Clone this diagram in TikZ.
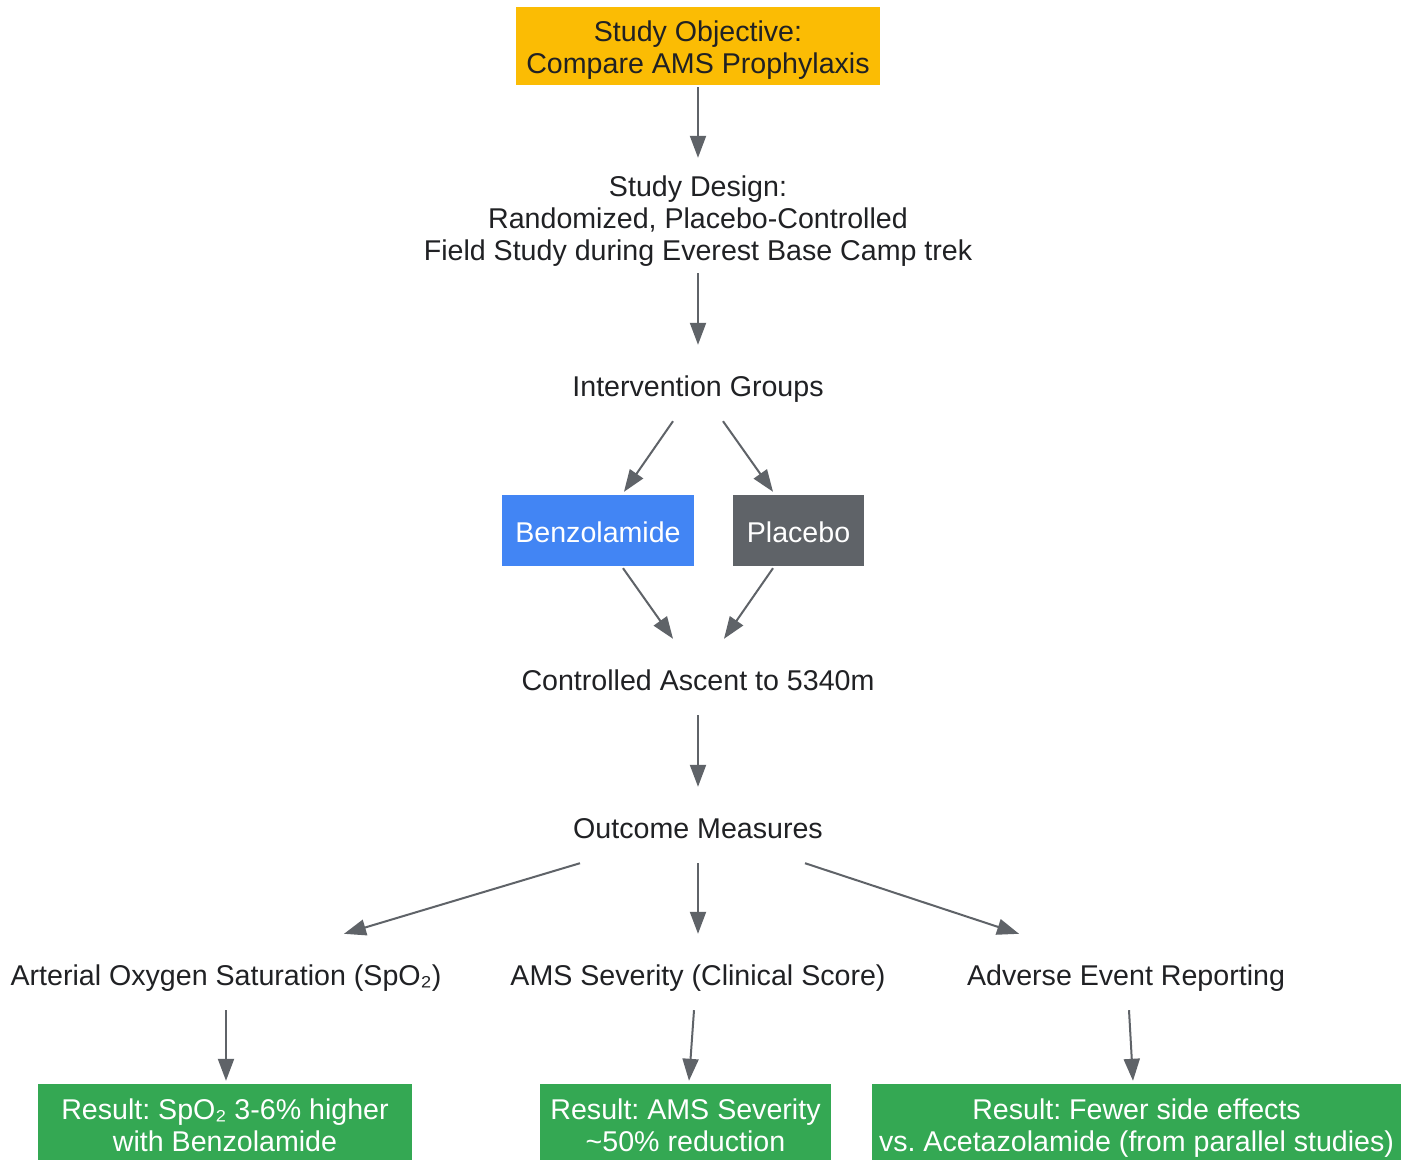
\documentclass[tikz,border=0pt]{standalone}
\usepackage{fontspec}
\setmainfont{Liberation Sans}
\frenchspacing
\usetikzlibrary{arrows.meta,calc}
\definecolor{cyellow}{HTML}{FBBC04}
\definecolor{cblue}{HTML}{4285F4}
\definecolor{cgray}{HTML}{5F6368}
\definecolor{cgreen}{HTML}{34A853}
\definecolor{ctext}{HTML}{202124}
\begin{document}
\begin{tikzpicture}[x=1pt,y=-1pt,
  every node/.style={font=\fontsize{28.6}{32}\selectfont, text=ctext, align=center, inner sep=0pt, text depth=0pt},
  plain/.style={minimum height=76, text height=26pt},
  box/.style={rectangle, minimum height=71, text height=23pt},
  res/.style={rectangle, fill=cgreen, text=white, minimum height=78, text height=57pt},
  conn/.style={draw=cgray, line width=2pt, -{Triangle[length=22pt,width=16pt]}}]
\useasboundingbox (0,0) rectangle (1413,1159);
\fill[white] (0,0) rectangle (1413,1159);
\node[rectangle, fill=cyellow, minimum width=364, minimum height=78, text height=55pt] (obj) at (698,46) {Study Objective:\\Compare AMS Prophylaxis};
\node[minimum height=115, text height=90pt] (design) at (698,215.5) {Study Design:\\Randomized, Placebo-Controlled\\Field Study during Everest Base Camp trek};
\node[plain] (ig) at (698,383) {Intervention Groups};
\node[box, fill=cblue, text=white, minimum width=192] (benz) at (598,530.5) {Benzolamide};
\node[box, fill=cgray, text=white, minimum width=131] (plac) at (798.5,530.5) {Placebo};
\node[plain] (asc) at (698,677) {Controlled Ascent to 5340m};
\node[plain] (om) at (698,825) {Outcome Measures};
\node[plain] (spo) at (226,972) {Arterial Oxygen Saturation (SpO₂)};
\node[plain] (ams) at (698,972) {AMS Severity (Clinical Score)};
\node[plain] (adv) at (1126,972) {Adverse Event Reporting};
\node[res, minimum width=374] (r1) at (225,1123) {Result: SpO₂ 3-6\% higher\\with Benzolamide};
\node[res, minimum width=291] (r2) at (685.5,1123) {Result: AMS Severity\\\textasciitilde50\% reduction};
\node[res, minimum width=529] (r3) at (1136.5,1123) {Result: Fewer side effects\\vs. Acetazolamide (from parallel studies)};

\draw[conn] ([yshift=-2pt]obj.south) -- (design.north);
\draw[conn] (design.south) -- (ig.north);
\draw[conn] ($(ig.south)+(-25,0)$) -- ($(benz.north)+(26,-3)$);
\draw[conn] ($(ig.south)+(25,0)$) -- ($(plac.north)+(-25.5,-3)$);
\draw[conn] ($(benz.south)+(25,2)$) -- ($(asc.north)+(-25,0)$);
\draw[conn] ($(plac.south)+(-25.5,2)$) -- ($(asc.north)+(26,0)$);
\draw[conn] (asc.south) -- (om.north);
\draw[conn] ($(om.south)+(-118,0)$) -- ($(spo.north)+(118,0)$);
\draw[conn] (om.south) -- (ams.north);
\draw[conn] ($(om.south)+(107,0)$) -- ($(adv.north)+(-107,0)$);
\draw[conn] (spo.south) -- ($(spo.south |- r1.north)+(0,-3)$);
\draw[conn] ($(ams.south)+(-4,0)$) -- ($(r2.north)+(3.5,-3)$);
\draw[conn] ($(adv.south)+(3,0)$) -- ($(r3.north)+(-3.5,-3)$);
\end{tikzpicture}
\end{document}
